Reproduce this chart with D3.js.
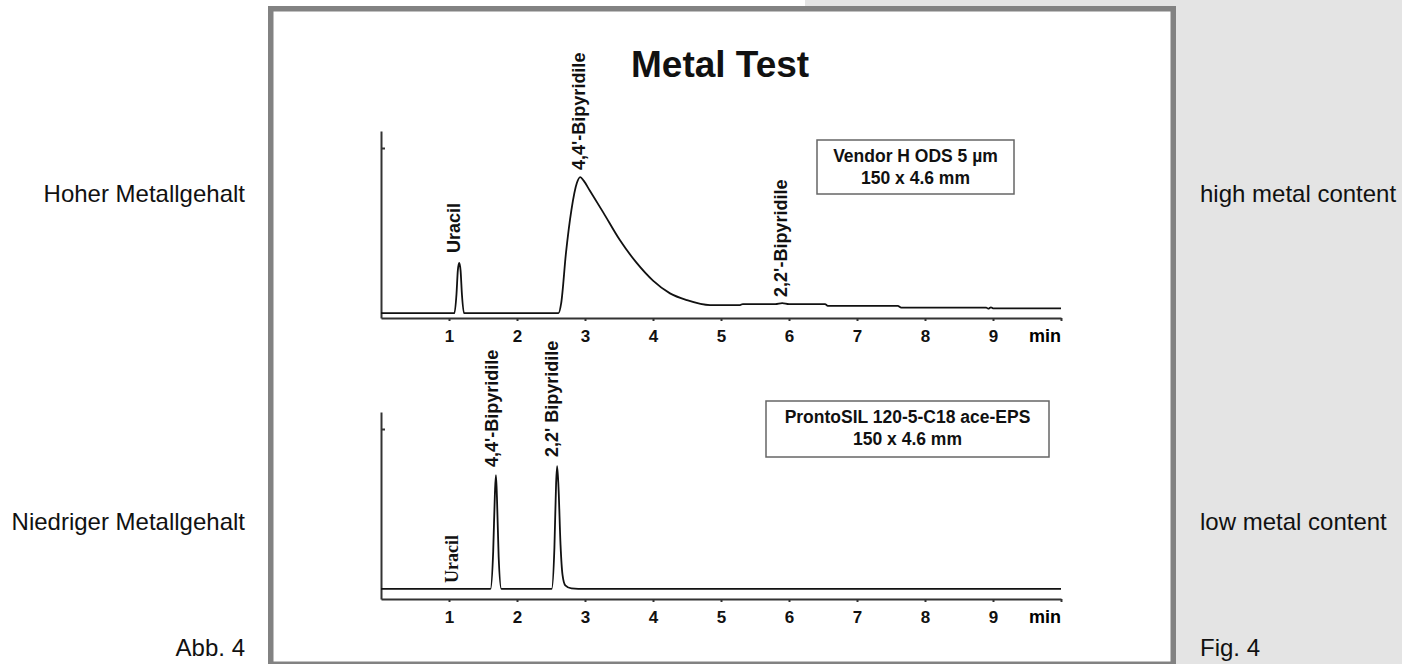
<!DOCTYPE html>
<html>
<head>
<meta charset="utf-8">
<title>Metal Test</title>
<script src="https://d3js.org/d3.v7.min.js"></script>
<style>
    body { margin: 0; background: #fff; }
    svg { display: block; }
    .side { font-family: "Liberation Sans", Arial, sans-serif; font-size: 24px; fill: #111; }
    .title { font-family: "Liberation Sans", Arial, sans-serif; font-size: 37px; font-weight: bold; fill: #111; }
    .peak-label { font-family: "Liberation Sans", Arial, sans-serif; font-size: 18px; font-weight: bold; fill: #111; }
    .peak-label.serif { font-family: "Liberation Serif", "Times New Roman", serif; font-weight: bold; font-size: 18px; }
    .box-text { font-family: "Liberation Sans", Arial, sans-serif; font-size: 17.5px; font-weight: bold; fill: #111; }
    .axis path, .axis line { stroke: #333; stroke-width: 2; }
    .axis text { font-family: "Liberation Sans", Arial, sans-serif; font-size: 17px; font-weight: bold; fill: #111; }
    .trace { fill: none; stroke: #111; stroke-width: 1.8; }
</style>
</head>
<body>
<div id="chart"></div>
<script>
// retention time (min) and detector signal
const highTime   = [0, 1.08, 1.11, 1.13, 1.15, 1.17, 1.19, 1.22, 2.61, 2.65, 2.72, 2.80, 2.88, 2.93, 2.98, 3.07, 3.27, 3.51, 3.76, 4.0, 4.25, 4.5, 4.84, 5.28, 5.32, 5.8, 5.9, 6.0, 6.53, 6.57, 7.6, 7.65, 8.9, 8.93, 8.97, 9.0, 10];
const highSignal = [2.9, 2.9, 14, 28, 32.4, 28, 14, 2.9, 2.9, 8.8, 38.2, 63.5, 79.4, 82.9, 80.8, 75, 62, 46, 32.4, 22, 14.5, 10.5, 7.6, 7.6, 8.2, 8.2, 8.8, 8.2, 8.2, 7.1, 7.1, 6.1, 6.1, 5.5, 6.3, 5.7, 5.7];

const lowTime   = [0, 1.61, 1.65, 1.675, 1.69, 1.705, 1.73, 1.77, 2.51, 2.55, 2.575, 2.59, 2.61, 2.64, 2.67, 2.71, 2.8, 3.0, 10];
const lowSignal = [5.9, 5.9, 28, 62, 72.9, 60, 25, 5.9, 5.9, 30, 68, 78.2, 66, 32, 14, 8, 6.2, 5.9, 5.9];

// peak labels: name, time of label, signal level where label starts
const highPeakNames = ["Uracil", "4,4'-Bipyridile", "2,2'-Bipyridile"];
const highPeakTimes = [1.07, 2.90, 5.87];
const highPeakLevel = [38.2, 87.1, 12.4];

const lowPeakNames = ["Uracil", "4,4'-Bipyridile", "2,2' Bipyridile"];
const lowPeakTimes = [1.04, 1.63, 2.51];
const lowPeakLevel = [9.4, 77.6, 83.5];

const xTicks = [1, 2, 3, 4, 5, 6, 7, 8, 9, 10];
const yTicks = [100];

const columnNames = ["Vendor H ODS 5 µm", "ProntoSIL 120-5-C18 ace-EPS"];
const columnSize = "150 x 4.6 mm";

const sideLeft = ["Hoher Metallgehalt", "Niedriger Metallgehalt", "Abb. 4"];
const sideRight = ["high metal content", "low metal content", "Fig. 4"];

const width = 1402, height = 664;

const svg = d3.select("#chart").append("svg")
    .attr("width", width)
    .attr("height", height);

// grey page panel on the right, the frame sits on top of it
svg.append("rect")
    .attr("x", 805).attr("y", 0)
    .attr("width", width - 805).attr("height", height)
    .attr("fill", "#e4e4e4");

svg.append("rect")
    .attr("x", 270.75).attr("y", 8.75)
    .attr("width", 902.5).attr("height", 655.5)
    .attr("fill", "#fff")
    .attr("stroke", "#828282")
    .attr("stroke-width", 5.5);

// side captions
const sideY = [202, 530, 656];
svg.selectAll(".side-left")
    .data(sideLeft)
    .enter().append("text")
    .attr("class", "side")
    .attr("x", 245)
    .attr("y", (d, i) => sideY[i])
    .attr("text-anchor", "end")
    .text(d => d);

svg.selectAll(".side-right")
    .data(sideRight)
    .enter().append("text")
    .attr("class", "side")
    .attr("x", 1200)
    .attr("y", (d, i) => sideY[i])
    .text(d => d);

svg.append("text")
    .attr("class", "title")
    .attr("x", 631)
    .attr("y", 77)
    .text("Metal Test");

const x = d3.scaleLinear().domain([0, 10]).range([381, 1061]);

function drawPanel(opts) {
    const y = d3.scaleLinear().domain([0, 110]).range([opts.bottom, opts.bottom - 187]);
    const g = svg.append("g");

    const xAxis = d3.axisBottom(x)
        .tickValues(xTicks)
        .tickSize(3)
        .tickSizeOuter(0)
        .tickPadding(9)
        .tickFormat(d => d < 10 ? d : "");

    g.append("g")
        .attr("class", "axis")
        .attr("transform", `translate(0,${opts.bottom})`)
        .call(xAxis);

    g.append("g")
        .attr("class", "axis")
        .attr("transform", `translate(${x(0)},0)`)
        .call(d3.axisRight(y).tickValues(yTicks).tickSize(4).tickSizeOuter(0).tickFormat(""));

    g.append("text")
        .attr("x", x(10))
        .attr("y", opts.bottom + 24)
        .attr("text-anchor", "end")
        .style("font-family", "'Liberation Sans', Arial, sans-serif")
        .style("font-size", "18px")
        .style("font-weight", "bold")
        .text("min");

    const points = opts.time.map((t, i) => [t, opts.signal[i]]);
    g.append("path")
        .datum(points)
        .attr("class", "trace")
        .attr("d", d3.line()
            .curve(d3.curveMonotoneX)
            .x(d => x(d[0]))
            .y(d => y(d[1])));

    // peak names, written bottom-to-top
    g.selectAll(".peak-label")
        .data(opts.names)
        .enter().append("text")
        .attr("class", (d, i) => opts.serif && opts.serif[i] ? "peak-label serif" : "peak-label")
        .attr("transform", (d, i) => `translate(${x(opts.times[i])},${y(opts.levels[i])}) rotate(-90)`)
        .attr("dy", "0.36em")
        .text(d => d);

    // column description box
    const box = g.append("g");
    box.append("rect")
        .attr("x", opts.box[0]).attr("y", opts.box[1])
        .attr("width", opts.box[2]).attr("height", opts.box[3])
        .attr("fill", "#fff")
        .attr("stroke", "#666")
        .attr("stroke-width", 1.5);
    const cx = opts.box[0] + opts.box[2] / 2;
    box.append("text").attr("class", "box-text")
        .attr("x", cx).attr("y", opts.box[1] + 22)
        .attr("text-anchor", "middle")
        .text(opts.column);
    box.append("text").attr("class", "box-text")
        .attr("x", cx).attr("y", opts.box[1] + 44)
        .attr("text-anchor", "middle")
        .text(columnSize);
}

drawPanel({
    bottom: 318,
    time: highTime, signal: highSignal,
    names: highPeakNames, times: highPeakTimes, levels: highPeakLevel,
    column: columnNames[0],
    box: [817, 140, 197, 54]
});

drawPanel({
    bottom: 599,
    time: lowTime, signal: lowSignal,
    names: lowPeakNames, times: lowPeakTimes, levels: lowPeakLevel,
    serif: [true, false, false],
    column: columnNames[1],
    box: [766, 401, 283, 56]
});
</script>
</body>
</html>
